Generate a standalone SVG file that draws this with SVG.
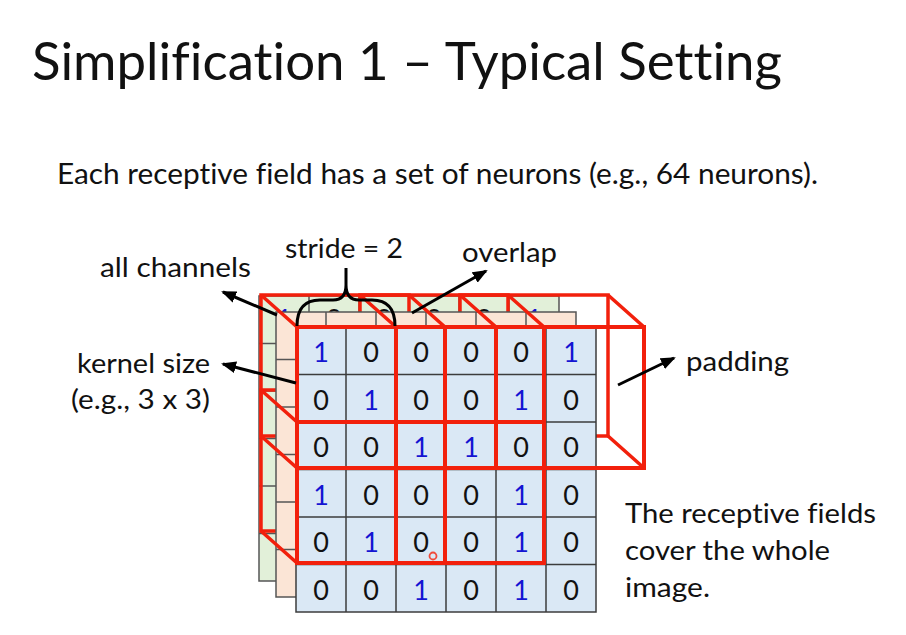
<svg xmlns="http://www.w3.org/2000/svg" width="906" height="635" viewBox="0 0 906 635">
<style>
  text { font-variant-ligatures: none; font-feature-settings: "liga" 0, "dlig" 0; }
  .t { font-family: Lato, "Liberation Sans", sans-serif; fill: #111; }
  .lbl { font-family: Lato, "Liberation Sans", sans-serif; font-size: 26px; fill: #111; }
  .d { font-family: Lato, "Liberation Sans", sans-serif; font-size: 27px; text-anchor: middle; fill: #111; }
  .one { fill: #1414d2; }
  .grid { stroke: #3c3c3c; stroke-width: 1.5; fill: none; }
  .bgrid { stroke: #555; stroke-width: 1.5; fill: none; }
  .rb { stroke: #f2200c; stroke-width: 3.5; fill: none; stroke-linejoin: miter; }
  .rf { stroke: #f2200c; stroke-width: 4; fill: none; }
  .arr { stroke: #000; stroke-width: 3; fill: none; }
</style>
<defs>
  <marker id="ah" markerWidth="15" markerHeight="12" refX="13" refY="6" orient="auto" markerUnits="userSpaceOnUse">
    <path d="M0,0 L15,6 L0,12 Z" fill="#000"/>
  </marker>
</defs>
<rect width="906" height="635" fill="#fff"/>

<g id="title">
  <text class="t" x="32" y="80" font-size="53" textLength="750" lengthAdjust="spacingAndGlyphs">Simplification 1 – Typical Setting</text>
  <text class="t" x="57" y="184" font-size="28" textLength="761" lengthAdjust="spacingAndGlyphs">Each receptive field has a set of neurons (e.g., 64 neurons).</text>
</g>

<!-- green (back) channel -->
<g id="channel-green">
  <rect x="259" y="296" width="300" height="285" fill="#e2f0d9" stroke="#555" stroke-width="1.5"/>
  <path class="bgrid" d="M309,296V581M359,296V581M409,296V581M459,296V581M509,296V581M259,343.5H559M259,391H559M259,438.5H559M259,486H559M259,533.5H559"/>
  <text class="d one" x="284" y="329">1</text>
  <text class="d" x="334" y="329">0</text>
  <text class="d" x="384" y="329">0</text>
  <text class="d" x="434" y="329">0</text>
  <text class="d" x="484" y="329">0</text>
  <text class="d one" x="534" y="329">1</text>
</g>

<!-- back faces of receptive fields -->
<g id="fields-back">
  <rect class="rb" x="261" y="295" width="148" height="141"/>
  <rect class="rb" x="360" y="295" width="148" height="141"/>
  <rect class="rb" x="460" y="295" width="148" height="141"/>
  <rect class="rb" x="261" y="390" width="148" height="141"/>
  <rect class="rb" x="360" y="390" width="148" height="141"/>
</g>

<!-- orange (middle) channel -->
<g id="channel-orange">
  <rect x="276" y="312" width="300" height="285" fill="#fbe5d6" stroke="#555" stroke-width="1.5"/>
  <path class="bgrid" d="M326,312V597M376,312V597M426,312V597M476,312V597M526,312V597M276,359.5H576M276,407H576M276,454.5H576M276,502H576M276,549.5H576"/>
</g>

<!-- depth edges of receptive fields -->
<g id="fields-depth">
  <path class="rb" d="M261,295L297,327M409,295L445,327M261,436L297,468M409,436L445,468
    M360,295L396,327M508,295L544,327M360,436L396,468M508,436L544,468
    M460,295L496,327M608,295L644,327M460,436L496,468M608,436L644,468
    M261,390L297,422M409,390L445,422M261,531L297,563M409,531L445,563
    M360,390L396,422M508,390L544,422M360,531L396,563M508,531L544,563"/>
</g>

<!-- front channel -->
<g id="channel-front">
  <rect x="296" y="327" width="300" height="285" fill="#dae8f5" stroke="#3c3c3c" stroke-width="1.5"/>
  <path class="grid" d="M346,327V612M396,327V612M446,327V612M496,327V612M546,327V612M296,374.5H596M296,422H596M296,469.5H596M296,517H596M296,564.5H596"/>
  <text class="d one" x="321" y="362">1</text><text class="d" x="371" y="362">0</text><text class="d" x="421" y="362">0</text><text class="d" x="471" y="362">0</text><text class="d" x="521" y="362">0</text><text class="d one" x="571" y="362">1</text>
  <text class="d" x="321" y="409.5">0</text><text class="d one" x="371" y="409.5">1</text><text class="d" x="421" y="409.5">0</text><text class="d" x="471" y="409.5">0</text><text class="d one" x="521" y="409.5">1</text><text class="d" x="571" y="409.5">0</text>
  <text class="d" x="321" y="457">0</text><text class="d" x="371" y="457">0</text><text class="d one" x="421" y="457">1</text><text class="d one" x="471" y="457">1</text><text class="d" x="521" y="457">0</text><text class="d" x="571" y="457">0</text>
  <text class="d one" x="321" y="504.5">1</text><text class="d" x="371" y="504.5">0</text><text class="d" x="421" y="504.5">0</text><text class="d" x="471" y="504.5">0</text><text class="d one" x="521" y="504.5">1</text><text class="d" x="571" y="504.5">0</text>
  <text class="d" x="321" y="552">0</text><text class="d one" x="371" y="552">1</text><text class="d" x="421" y="552">0</text><text class="d" x="471" y="552">0</text><text class="d one" x="521" y="552">1</text><text class="d" x="571" y="552">0</text>
  <text class="d" x="321" y="599.5">0</text><text class="d" x="371" y="599.5">0</text><text class="d one" x="421" y="599.5">1</text><text class="d" x="471" y="599.5">0</text><text class="d one" x="521" y="599.5">1</text><text class="d" x="571" y="599.5">0</text>
</g>

<!-- front faces of receptive fields -->
<g id="fields-front">
  <rect class="rf" x="297" y="327" width="148" height="141"/>
  <rect class="rf" x="396" y="327" width="148" height="141"/>
  <rect class="rf" x="496" y="327" width="148" height="141"/>
  <rect class="rf" x="297" y="422" width="148" height="141"/>
  <rect class="rf" x="396" y="422" width="148" height="141"/>
</g>

<circle cx="433" cy="556" r="3.5" fill="none" stroke="#f04a3a" stroke-width="1.8"/>

<g id="connectors">
  <path class="arr" marker-end="url(#ah)" d="M277,315 L223,292"/>
  <path class="arr" marker-end="url(#ah)" d="M296,383 L223,364"/>
  <path class="arr" marker-end="url(#ah)" d="M412,313 L486,271"/>
  <path class="arr" marker-end="url(#ah)" d="M618,385 L674,358"/>
  <path class="arr" stroke-width="2.5" d="M297,326 Q297,300 320,300 L333,300 Q346,300 346,285 L346,268 M346,285 Q346,300 359,300 L372,300 Q395,300 395,326"/>
</g>

<g id="labels">
  <text class="lbl" x="285" y="258" textLength="118" lengthAdjust="spacingAndGlyphs">stride = 2</text>
  <text class="lbl" x="462" y="262" textLength="95" lengthAdjust="spacingAndGlyphs">overlap</text>
  <text class="lbl" x="100" y="277" textLength="151" lengthAdjust="spacingAndGlyphs">all channels</text>
  <text class="lbl" x="77" y="373" textLength="133" lengthAdjust="spacingAndGlyphs">kernel size</text>
  <text class="lbl" x="71" y="409" textLength="139" lengthAdjust="spacingAndGlyphs">(e.g., 3 x 3)</text>
  <text class="lbl" x="686" y="371" textLength="103" lengthAdjust="spacingAndGlyphs">padding</text>
  <text class="lbl" x="625" y="523" textLength="251" lengthAdjust="spacingAndGlyphs">The receptive fields</text>
  <text class="lbl" x="625" y="560" textLength="205" lengthAdjust="spacingAndGlyphs">cover the whole</text>
  <text class="lbl" x="625" y="597" textLength="85" lengthAdjust="spacingAndGlyphs">image.</text>
</g>
</svg>
